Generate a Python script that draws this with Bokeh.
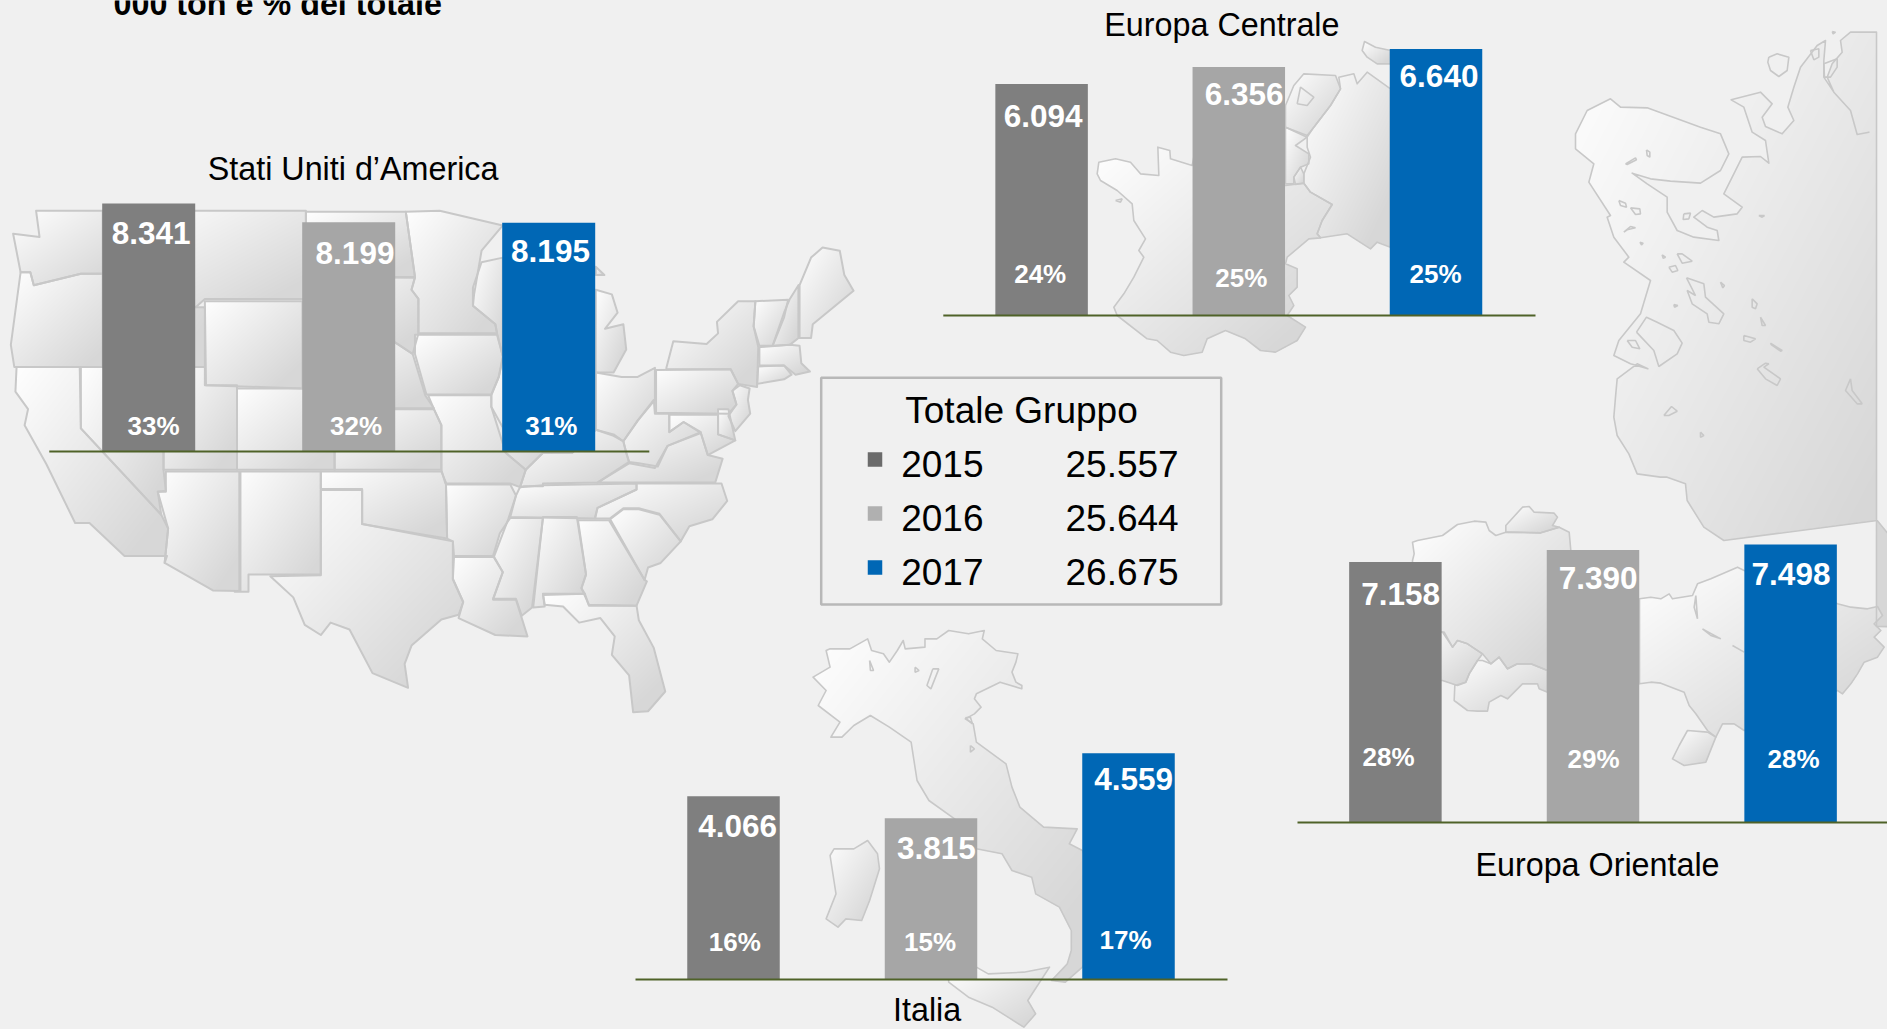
import numpy as np
from bokeh.embed import file_html
from bokeh.models import Range1d
from bokeh.plotting import figure
from bokeh.resources import INLINE
from bokeh.core.properties import value

# ---------------- data ----------------
years = ["2015", "2016", "2017"]
group_totals = [25557, 25644, 26675]
usa_values = [8341, 8199, 8195]
usa_shares = [33, 32, 31]
central_values = [6094, 6356, 6640]
central_shares = [24, 25, 25]
east_values = [7158, 7390, 7498]
east_shares = [28, 29, 28]
italy_values = [4066, 3815, 4559]
italy_shares = [16, 15, 17]

# ---------------- map outlines (traced, in crop coordinates) ----------------
usa_states = [
 [(62,458),(178,458),(220,458),(220,600),(178,595),(140,595),(58,620),(52,592),(35,592),(22,508),(68,515)],
 [(35,592),(52,592),(58,620),(140,595),(178,595),(200,620),(200,798),(24,798),(18,750)],
 [(28,798),(138,798),(140,932),(280,1120),(292,1150),(286,1225),(290,1210),(216,1210),(155,1138),(130,1138),(80,1010),(42,925),(48,890),(26,852)],
 [(140,798),(284,798),(284,1022),(288,1068),(274,1070),(280,1120),(140,932)],
 [(288,1026),(416,1026),(416,1286),(370,1285),(286,1225),(292,1150),(274,1070),(288,1070)],
 [(418,1026),(558,1026),(558,1250),(432,1250),(432,1288),(408,1288),(418,1286)],
 [(284,798),(356,798),(356,838),(412,838),(412,1022),(284,1022)],
 [(178,458),(220,458),(220,600),(340,668),(356,668),(356,798),(178,798)],
 [(220,458),(532,458),(532,650),(356,650),(340,668),(220,600)],
 [(356,655),(526,655),(526,845),(358,838)],
 [(412,845),(582,845),(582,1022),(412,1022)],
 [(532,460),(706,460),(722,602),(532,602)],
 [(532,602),(722,604),(716,630),(728,650),(728,725),(718,770),(688,745),(532,745)],
 [(532,745),(688,745),(718,770),(740,860),(755,888),(582,888),(582,845),(532,845)],
 [(582,890),(755,890),(768,925),(768,1022),(582,1022)],
 [(558,1026),(768,1026),(776,1050),(778,1172),(735,1163),(630,1140),(630,1064),(558,1064)],
 [(558,1066),(630,1066),(630,1140),(735,1165),(788,1178),(788,1260),(806,1310),(798,1338),(768,1348),(716,1405),(704,1445),(710,1497),(648,1465),(608,1370),(575,1355),(558,1382),(530,1360),(510,1300),(470,1254),(558,1252)],
 [(706,460),(765,458),(875,490),(838,545),(825,640),(823,665),(862,705),(865,725),(728,725),(728,650),(716,630),(722,602)],
 [(722,728),(865,728),(875,775),(868,820),(855,858),(742,858),(722,770)],
 [(745,860),(855,860),(855,885),(875,930),(880,985),(915,1022),(905,1060),(888,1052),(775,1052),(768,1022),(768,925),(755,890)],
 [(776,1054),(888,1054),(898,1078),(885,1128),(860,1210),(790,1210),(788,1178),(778,1172)],
 [(790,1212),(860,1212),(875,1245),(858,1305),(898,1305),(918,1385),(862,1382),(798,1345),(806,1310),(788,1260)],
 [(875,560),(875,775),(865,725),(862,705),(823,665),(823,625),(838,570)],
 [(1037,630),(1065,640),(1075,680),(1053,715),(1085,705),(1090,760),(1068,810),(1037,810)],
 [(1037,580),(1052,598),(1037,598)],
 [(875,780),(960,780),(960,985),(945,985),(915,1022),(880,985),(855,885),(855,860),(868,820)],
 [(960,810),(1037,810),(1037,935),(996,985),(960,985)],
 [(1037,810),(1082,820),(1110,820),(1140,800),(1140,870),(1110,915),(1085,960),(1068,945),(1037,935)],
 [(915,1022),(945,985),(996,985),(1037,935),(1068,948),(1085,960),(1090,985),(1095,1005),(1040,1050),(945,1052),(945,1058),(912,1058),(905,1060)],
 [(905,1060),(945,1056),(1108,1052),(1108,1065),(1040,1105),(1035,1128),(888,1125),(898,1078)],
 [(1085,960),(1110,915),(1138,870),(1140,900),(1165,900),(1165,940),(1190,918),(1220,940),(1162,970),(1145,1015),(1112,1008),(1095,1005),(1090,985)],
 [(1040,1050),(1095,1008),(1140,1018),(1162,970),(1220,942),(1232,990),(1258,998),(1245,1050)],
 [(1108,1052),(1256,1052),(1266,1090),(1240,1130),(1200,1145),(1185,1178),(1148,1118),(1112,1106),(1085,1106),(1062,1128),(1036,1128),(1040,1105),(1108,1065)],
 [(1062,1130),(1085,1108),(1112,1108),(1148,1120),(1185,1178),(1150,1225),(1128,1235),(1122,1262)],
 [(1006,1132),(1060,1132),(1122,1262),(1126,1265),(1108,1318),(1025,1316),(1012,1280),(1020,1250)],
 [(945,1125),(1004,1125),(1020,1250),(1012,1280),(1018,1292),(945,1295),(948,1320),(928,1322)],
 [(888,1127),(945,1127),(926,1322),(908,1340),(898,1303),(858,1303),(875,1245),(858,1210),(870,1160)],
 [(945,1292),(1018,1292),(1025,1318),(1108,1318),(1112,1350),(1138,1410),(1158,1505),(1128,1548),(1102,1550),(1095,1470),(1065,1425),(1070,1385),(1045,1345),(1008,1355),(980,1320),(948,1316)],
 [(1142,805),(1272,803),(1285,835),(1275,850),(1282,880),(1268,900),(1142,898)],
 [(1160,800),(1172,742),(1230,748),(1250,725),(1248,700),(1285,655),(1315,655),(1312,710),(1320,755),(1318,842),(1285,835),(1272,803),(1160,803)],
 [(1165,902),(1250,902),(1250,945),(1280,958),(1232,990),(1220,942),(1190,918),(1165,940)],
 [(1250,890),(1268,890),(1280,958),(1250,945)],
 [(1288,838),(1305,845),(1302,870),(1306,900),(1280,938),(1268,905),(1282,880),(1275,850)],
 [(1315,655),(1372,652),(1365,690),(1345,752),(1322,752),(1312,710)],
 [(1365,680),(1375,650),(1390,620),(1390,735),(1375,750),(1345,752)],
 [(1392,620),(1412,560),(1432,538),(1462,545),(1470,598),(1486,632),(1415,705),(1412,735),(1392,735)],
 [(1322,755),(1375,750),(1392,752),(1395,790),(1410,808),(1385,815),(1365,795),(1322,795)],
 [(1320,797),(1365,795),(1378,815),(1365,825),(1318,835)],
]
russia_outline = [(948,35),(870,35),(840,60),(845,95),(815,130),(800,170),(820,215),(870,270),(890,342),(925,335),(890,342),(870,270),(820,215),(790,170),(790,120),(795,60),(770,75),(720,140),(700,200),(682,260),(700,300),(665,340),(615,318),(605,290),(635,250),(600,215),(512,238),(550,260),(575,335),(615,360),(625,428),(600,408),(545,410),(490,520),(545,560),(530,580),(460,590),(425,570),(400,590),(440,620),(470,630),(475,660),(400,650),(350,630),(320,575),(320,530),(260,490),(215,458),(270,475),(330,482),(420,488),(480,450),(505,400),(480,340),(420,320),(260,262),(180,260),(150,235),(80,270),(45,340),(45,385),(100,430),(85,485),(150,585),(140,590),(160,650),(205,710),(190,725),(270,780),(240,880),(175,960),(160,1005),(210,1030),(262,1045),(230,1030),(170,1075),(165,1130),(160,1190),(170,1245),(205,1300),(230,1360),(300,1370),(320,1370),(375,1390),(380,1440),(430,1520),(490,1560),(579+371,1500+0),(579+420,1500+60),(579+481,1500+115),(579+411,1500+150),(579+451,1500+230),(579+531,1500+200),(579+551,1500+210),(579+831,1500+305),(579+871,1500+320),(579+921,1500+325),(948,1818)]
russia_lakes = [
 [(195,430),(225,412),(228,418),(200,432)],[(258,388),(268,395),(268,410),(260,405)],
 [(175,540),(195,548),(198,560),(180,555)],[(210,562),(238,565),(240,580),(225,582)],
 [(190,635),(210,618),(225,622),(200,628)],[(625,110),(650,100),(685,110),(680,150),(655,168),(630,150),(622,125)],
 [(228,935),(258,890),(290,905),(340,930),(365,968),(350,1000),(295,1038),(280,990)],
 [(200,960),(225,960),(238,985),(215,980)],[(325,740),(345,735),(352,750),(335,755)],
 [(350,700),(365,700),(395,722),(365,728)],
 [(378,772),(430,790),(435,830),(490,880),(475,910),(445,905),(440,880),(395,850),(380,810),(405,825)],
 [(575,835),(590,850),(585,865),(575,860)],[(600,890),(615,915),(605,915)],[(550,945),(585,955),(570,965),(550,960)],
 [(630,968),(665,990),(660,992),(632,972)],[(590,1045),(615,1028),(625,1030),(610,1040),(660,1075),(650,1095),(615,1075)],
 [(310,1185),(333,1158),(350,1172),(325,1185)],[(420,1235),(430,1245),(420,1250)],
 [(870,1075),(875,1110),(905,1150),(890,1150),(855,1110)],[(480,785),(492,795),(487,802)],
 [(340,852),(352,855),(342,860)],[(305,703),(315,710),(308,713)],[(238,665),(248,668),(243,673)],
 [(370,580),(390,578),(385,595),(368,597)],[(595,585),(612,585),(605,590)],
 [(790,130),(830,115),(830,140),(810,170),(792,170)],[(750,90),(775,85),(775,110),(760,118)],[(815,33),(825,35),(818,40)],
]
east_countries = [
 [(135,125),(150,120),(225,105),(270,72),(320,62),(355,65),(365,90),(385,105),(415,95),(520,97),(575,80),(605,95),(610,150),(610,450),(540,510),(490,490),(450,490),(420,505),(395,470),(370,490),(345,460),(300,430),(270,420),(255,440),(230,395),(225,395),(135,395),(135,180),(140,160)],
 [(415,95),(415,75),(465,20),(485,18),(500,35),(560,38),(570,50),(555,75),(575,80),(520,97)],
 [(135,395),(225,395),(255,440),(270,420),(300,430),(345,460),(330,480),(305,520),(295,545),(270,555),(225,540),(135,540)],
 [(345,480),(370,490),(395,470),(420,505),(450,490),(490,490),(540,510),(540,575),(515,565),(510,550),(465,550),(420,595),(400,585),(365,605),(360,632),(330,632),(300,630),(260,600),(262,555),(295,545),(305,520),(330,480)],
 [(816,295),(850,290),(880,295),(905,280),(915,295),(975,285),(990,250),(1030,235),(1110,200),(1130,210),(1260,250),(1410,310),(1450,320),(1500,325),(1530,318),(1545,345),(1520,370),(1540,390),(1520,410),(1550,440),(1530,470),(1490,485),(1470,520),(1450,550),(1425,580),(1410,570),(1260,640),(1130,690),(1100,670),(1065,670),(1045,710),(1020,690),(985,640),(965,615),(950,575),(880,548),(850,545),(816,550)],
 [(960,690),(1020,695),(1045,710),(1015,785),(950,795),(915,775),(935,735)],
]
east_lines = [[(985,285),(980,320),(990,355)],[(1005,385),(1030,405),(1060,415)],[(1095,435),(1130,455)]]
central_countries = [
 [(55,395),(105,385),(150,395),(180,430),(235,435),(232,350),(268,360),(270,385),(335,405),(340,380),(615,465),(670,458),(690,485),(755,522),(725,570),(710,610),(720,622),(685,625),(620,680),(615,700),(650,715),(650,770),(625,795),(640,825),(620,855),(675,890),(650,930),(585,965),(540,960),(495,925),(435,900),(380,925),(365,965),(310,975),(270,965),(230,930),(200,925),(110,855),(100,830),(130,790),(160,740),(190,680),(175,660),(195,625),(160,570),(155,520),(110,480),(60,450),(50,430)],
 [(775,140),(820,130),(830,160),(860,125),(930,175),(930,650),(890,635),(870,655),(800,610),(720,622),(710,610),(725,570),(755,522),(690,485),(670,458),(670,430),(690,380),(680,350),(680,320),(700,290),(750,225),(780,175)],
 [(615,225),(640,165),(670,130),(765,135),(780,175),(750,225),(700,290),(680,315),(615,290)],
 [(615,290),(680,320),(645,345),(685,370),(685,400),(660,410),(640,440),(640,460),(615,460)],
 [(640,440),(660,410),(670,430),(670,458),(645,462)],
 [(845,60),(852,33),(885,50),(930,60),(930,100),(890,100),(860,80)],
]
central_lakes = [[(650,220),(660,170),(700,200),(680,225)],[(105,510),(125,505),(120,515)]]
italy_main = [(530,115),(580,115),(625,85),(635,120),(665,130),(680,155),(700,120),(715,90),(720,115),(770,110),(770,85),(800,85),(830,60),(880,70),(920,60),(915,85),(950,120),(1005,130),(1000,155),(990,185),(1000,215),(1015,225),(1015,235),(960,215),(900,250),(895,265),(912,290),(895,310),(872,325),(892,340),(900,395),(975,460),(990,530),(1010,590),(1070,650),(1155,655),(1135,700),(1168,720),(1200,800),(1200,1000),(1168,1070),(1125,1115),(1090,1110),(1130,1060),(1140,1020),(1140,960),(1110,890),(1050,850),(1040,800),(990,780),(965,730),(900,715),(845,625),(780,570),(750,510),(735,395),(680,350),(632,315),(590,345),(560,380),(532,380),(555,335),(500,285),(520,240),(487,200),(530,170),(520,120)]
italy_islands = [
 [(900,1070),(930,1090),(1020,1085),(1085,1070),(1030,1170),(1050,1210),(1020,1250),(980,1220),(940,1190),(880,1160),(830,1115),(830,1100)],
 [(540,715),(590,715),(625,690),(650,730),(655,775),(630,870),(610,930),(570,925),(550,950),(520,925),(545,850),(530,735)],
]
italy_lakes = [[(790,175),(805,175),(785,235),(775,225)],[(872,322),(885,320),(890,340)],[(885,405),(895,415),(885,425)],[(630,150),(640,180),(632,180)],[(745,170),(755,180),(745,185)]]

# ---------------- layout ----------------
W, H = 1887, 1029
BG = "#f0f0f0"
BAR_COLORS = ["#7f7f7f", "#a6a6a6", "#0067b5"]
MARK_COLORS = ["#6b6b6b", "#b0b0b0", "#0067b5"]
LINE = "#c8c8c8"
GREEN = "#4f6228"
WHITE_BOLD = dict(text_color="white", text_font=value("Liberation Sans"), text_font_style="bold",
                  text_align="center", text_baseline="middle")
BLACK = dict(text_color="black", text_font=value("Liberation Sans"), text_baseline="middle")

def conv(pts, ox, oy, sx=3.0, sy=3.0):
    return [(ox + a / sx, oy + b / sy) for a, b in pts]

gradient_polys = [conv(q, 0, 0, 1.742, 2.178) for q in usa_states]
line_polys = list(gradient_polys)
usa_n = len(line_polys)
russia = conv(russia_outline, 1560, 20)
gradient_polys.append(russia); line_polys.append(russia)
small_polys = [conv(q, 1560, 20) for q in russia_lakes]
for q in east_countries:
    c = conv(q, 1367, 500); gradient_polys.append(c); line_polys.append(c)
small_polys = small_polys + [conv(q, 1367, 500) for q in east_lines]
for q in central_countries:
    c = conv(q, 1080, 30); gradient_polys.append(c); line_polys.append(c)
small_polys = small_polys + [conv(q, 1080, 30) for q in central_lakes]
for q in [italy_main] + italy_islands:
    c = conv(q, 620, 610, 2.529, 3.0); gradient_polys.append(c); line_polys.append(c)
small_polys = small_polys + [conv(q, 620, 610, 2.529, 3.0) for q in italy_lakes]

# gradient fill: each shape runs white (top-left) to light grey (bottom-right)
img = np.zeros((H, W), dtype=np.uint32)
for poly in gradient_polys:
    P = np.array(poly)
    x0, y0 = np.floor(P.min(axis=0)).astype(int)
    x1, y1 = np.ceil(P.max(axis=0)).astype(int)
    x0, y0 = max(x0, 0), max(y0, 0)
    x1, y1 = min(x1, W), min(y1, H)
    X, Y = np.meshgrid(np.arange(x0, x1) + .5, np.arange(y0, y1) + .5)
    inside = np.zeros(X.shape, dtype=bool)
    for (ax, ay), (bx, by) in zip(P, np.roll(P, -1, axis=0)):
        if ay == by:
            continue
        inside ^= ((ay > Y) != (by > Y)) & (X < (bx - ax) * (Y - ay) / (by - ay) + ax)
    t = ((X - x0) / max(x1 - x0, 1) + (Y - y0) / max(y1 - y0, 1)) / 2
    g = (255 - 40 * np.clip(t * 1.15, 0, 1)).astype(np.uint32)
    rgba = (255 << 24) | (g << 16) | (g << 8) | g
    sub = img[y0:y1, x0:x1]
    sub[inside] = rgba[inside]
img = img[::-1]

p = figure(width=W, height=H, x_range=Range1d(0, W), y_range=Range1d(0, H), output_backend="svg",
           toolbar_location=None, x_axis_type=None, y_axis_type=None, min_border=0,
           background_fill_color=BG, border_fill_color=BG, outline_line_color=None)
p.grid.visible = False

p.image_rgba(image=[img], x=0, y=0, dw=W, dh=H)
def outlines(polys, width):
    p.patches([[a for a, _ in q] for q in polys], [[H - b for _, b in q] for q in polys],
              fill_alpha=0, line_color=LINE, line_width=width, line_join="round")
outlines(line_polys[:usa_n], 2)
outlines(line_polys[usa_n:], 1.6)
for q in small_polys:
    p.line([a for a, _ in q] + [q[0][0]], [H - b for _, b in q] + [H - q[0][1]], line_color=LINE, line_width=1.6)

# panel calibration: first bar centre, bar pitch, bar width, baseline, px-per-unit, axis minimum, line extent
panels = [
    ("usa", usa_values, usa_shares, 148.2, 200.0, 93, 451, 0.1324, 6468, (48.8, 648.8)),
    ("central", central_values, central_shares, 1041.1, 197.2, 92.5, 315, 0.0641, 2481, (942.8, 1535)),
    ("east", east_values, east_shares, 1394.9, 197.6, 92.5, 822.0, 0.0515, 2100, (1297, 1887)),
    ("italy", italy_values, italy_shares, 733.0, 197.5, 92.5, 979, 0.0874, 1969, (635, 1227)),
]
label_xy = {
    "usa": ([150.7, 354.5, 550], [232.5, 252, 250.2], [153, 355.6, 550.8], [425.6, 425.6, 425.6]),
    "central": ([1042.7, 1243.7, 1438.5], [115, 93, 75], [1039.7, 1240.8, 1435], [273.6, 277, 273.6]),
    "east": ([1400.1, 1597.7, 1790.5], [593.3, 577.5, 573], [1388, 1593, 1793], [756.6, 758.5, 758.5]),
    "italy": ([737.1, 935.8, 1133.1], [825, 847, 778], [734.3, 929.6, 1125], [941.3, 941.3, 939.3]),
}
for name, vals, shares, c0, pitch, bw, yb, slope, v0, ext in panels:
    p.extra_x_ranges[name] = Range1d(-c0 / pitch, (W - c0) / pitch)
    p.extra_y_ranges[name] = Range1d(v0 + (yb - H) / slope, v0 + yb / slope)
    p.vbar(x=[0, 1, 2], top=vals, bottom=v0, width=bw / pitch, fill_color=BAR_COLORS, line_color=None,
           x_range_name=name, y_range_name=name)
    p.line(list(ext), [H - yb, H - yb], line_color=GREEN, line_width=2)
    vx, vy, sx, sy = label_xy[name]
    p.text(vx, [H - b for b in vy], text=[f"{v:,}".replace(",", ".") for v in vals], text_font_size="31.5px", **WHITE_BOLD)
    p.text(sx, [H - b for b in sy], text=[f"{s}%" for s in shares], text_font_size="26px", **WHITE_BOLD)

titles = ["Stati Uniti d’America", "Europa Centrale", "Italia", "Europa Orientale"]
p.text([352.6, 1221.4, 926.6, 1597], [H - 168.7, H - 24.3, H - 1009.9, H - 864], text=titles,
       text_font_size="32.3px", text_align="center", **BLACK)
p.text([113], [H - 3], text=["000 ton e % del totale"], text_font_size="32.3px", text_font=value("Liberation Sans"),
       text_font_style="bold", text_color="black", text_baseline="alphabetic")

# group total box
p.quad(left=[820.7], right=[1220.7], bottom=[H - 604], top=[H - 377.3], fill_alpha=0, line_color="#b8b8b8", line_width=2.5)
p.text([1021], [H - 410], text=["Totale Gruppo"], text_font_size="37px", text_align="center", **BLACK)
row_y = [H - 463.3, H - 517, H - 571]
p.scatter([874.5] * 3, [H - 459, H - 513, H - 567], marker="square", size=14.5, fill_color=MARK_COLORS, line_color=None)
p.text([900.7] * 3, row_y, text=years, text_font_size="37px", text_align="left", **BLACK)
p.text([1065] * 3, row_y, text=[f"{v:,}".replace(",", ".") for v in group_totals], text_font_size="37px", text_align="left", **BLACK)

html = file_html(p, INLINE)
html = html.replace("<head>", "<head><style>html,body{margin:0;padding:0;overflow:hidden;background:#f0f0f0}</style>", 1)
open("out.html", "w").write(html)
